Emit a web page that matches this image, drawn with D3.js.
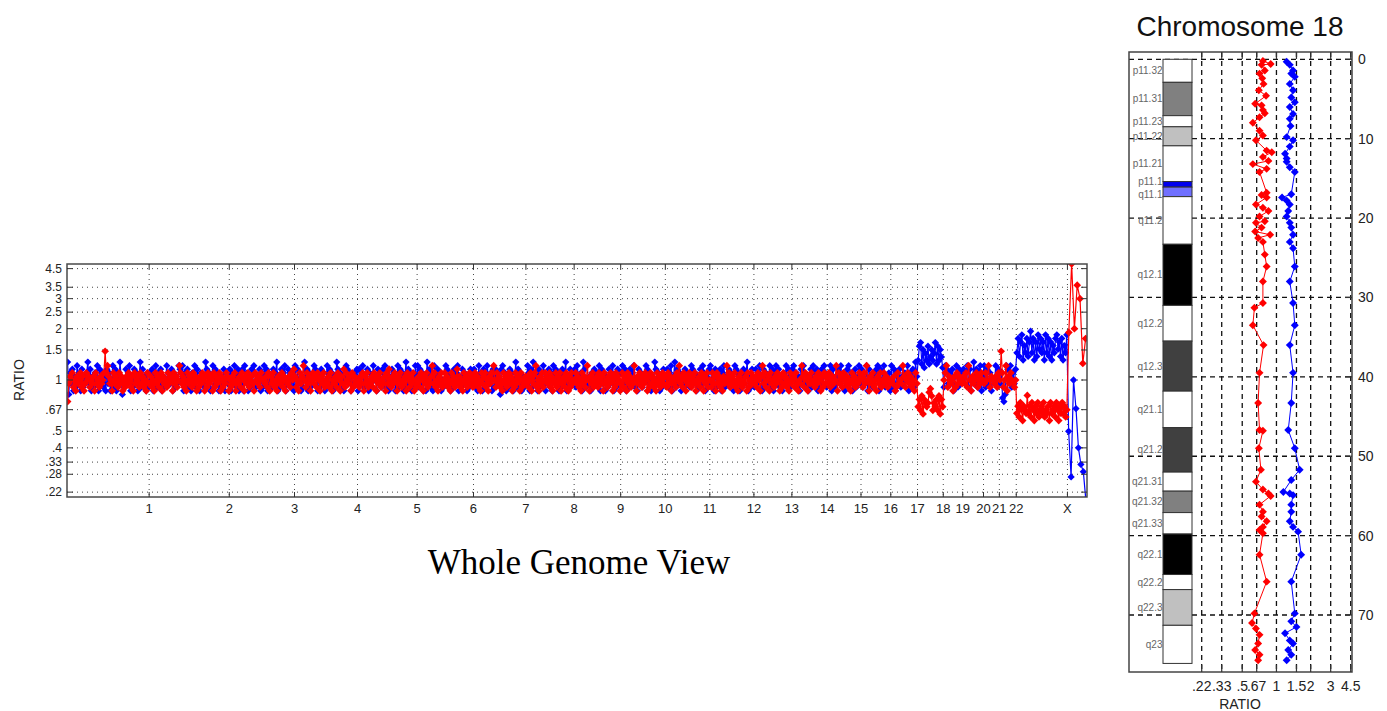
<!DOCTYPE html>
<html>
<head>
<meta charset="utf-8">
<script src="https://cdn.jsdelivr.net/npm/d3@7"></script>
<style>
  body { margin: 0; background: #fff; }
  svg { display: block; font-family: Arial, "Liberation Sans", sans-serif; }
</style>
</head>
<body>
<div class="canvas"></div>
<script>
// ---- whole genome data ----
const chromNames = ['1','2','3','4','5','6','7','8','9','10','11','12','13','14','15','16','17','18','19','20','21','22','X','Y'];
const chromLengths = [249.3,243.2,198.0,191.2,180.9,171.1,159.1,146.4,141.2,135.5,135.0,133.9,115.2,107.3,102.5,90.4,81.2,78.1,59.1,63.0,48.1,51.3,155.3,59.4]; // Mb

const ratioTicks = [4.5, 3.5, 3, 2.5, 2, 1.5, 1, 0.67, 0.5, 0.4, 0.33, 0.28, 0.22];
const ratioTickLabels = ['4.5','3.5','3','2.5','2','1.5','1','.67','.5','.4','.33','.28','.22'];

// segment level per chromosome (log2 ratio), chr1..X
const blueLevel = [0,0,0,0,0,0,0,0,0,0,0,0,0,0,0,0,0,0.45,0,0,0,0,0.6];
const redLevel  = [0,0,0,0,0,0,0,0,0,0,0,0,0,0,0,0,0,-0.45,0,0,0,0,-0.58];

// probe readings per chromosome, one hex char per probe: log2 offset = (h - 6) * 0.07
const blueReads = [
  'B2859374A68394758B5937486A395847395836A49385B7264958A37495836B4957384',
  '85937A48593746A685938475A96A385947385A49638574B95837A4958374693857',
  '9385A74938593A6837495A84759384A6938574958B374958A36958473',
  'A4958374B6938475A9837495836A4958374B9584736A958374859',
  '3958A47593846A673958495A4837495836A495837B4958374A6',
  'A4958373B59483A749583646A958374958A3749586374958',
  '9473A583946A758394958629A4837495836B49583746',
  '5A8394B75839465A83759483A6958374958B3749586',
  '94A7583B946573849586A3958374958A374958',
  '8A59374958A463958476A958374B95837495',
  '5948A37B495837495864A95837495A83749',
  'A5839475938A47594863A958374958B37495',
  '4958A7394856A4938A5947386A5948',
  '9A4857395A8473694A85937495A84',
  '58A3947596A48379A5836947A5',
  '9485A39574869A3958A47583',
  'A49385947586A38594B7',
  '59A48375946857A495863',
  '4A9585937A4958',
  '958A4936B5948A37',
  'A4958365A49',
  '58102A96A4859',
  '5948A375948B59384A69583A59483759A6849375A'
];
const redReads = [
  '05768463756847358674657385647568E8A75638576485736475864738567485746385',
  '57463857468375648576385746A8574638576485736475863748576384756837465873',
  '647583657486375846753865748665748375846375684736574869',
  '7463857A648573685748637584657483657486375948657384756',
  '6475837584657486375846573859647586375846573864758364',
  '5748637584657A584637584685746385746957463857468574',
  '685746385784637586A64857463857468573648576384657',
  '574683758A463758468756847365847583657486374856',
  '685746385746A6375846574865738564758637485763',
  '584763857465A6375864758637485746385746857',
  '748573657486A574863758647583657486375846',
  '648573857463756A584675846375846573846857',
  '5748637A5846738564758637485746385',
  '67485365A748637585647586374857',
  '5846756A38574865746385746586',
  '7485A6375846375846857465',
  '657348565A74685746385',
  '5748376569A8465748375',
  '68A475637485765',
  '7584A63756847586',
  '586A4765748',
  '6E846A37586546',
  '574863765A5748637584675846573856748637585746'
];
// chromosome Y, read as ratios
const blueY = [0.5, 0.27, 1.0, 0.68, 0.4, 0.32, 0.29, 0.2];
const redY = [1.9, 4.8, 2.0, 3.6, 3.0, 1.25, 1.75];

// ---- chromosome 18 data ----
const bandNames = ['p11.32','p11.31','p11.23','p11.22','p11.21','p11.1','q11.1','q11.2','q12.1','q12.2','q12.3','q21.1','q21.2','q21.31','q21.32','q21.33','q22.1','q22.2','q22.3','q23'];
const bandStarts = [0,2.9,7.1,8.5,10.9,15.4,16.1,17.3,23.3,31.0,35.5,41.8,46.4,52.0,54.4,57.1,59.8,64.9,66.8,71.3];
const bandEnds = [2.9,7.1,8.5,10.9,15.4,16.1,17.3,23.3,31.0,35.5,41.8,46.4,52.0,54.4,57.1,59.8,64.9,66.8,71.3,76.1];
const bandStains = ['gneg','gpos50','gneg','gpos25','gneg','acen','acen2','gneg','gpos100','gneg','gpos75','gneg','gpos75','gneg','gpos50','gneg','gpos100','gneg','gpos25','gneg'];

const chr18RedPos = [0.2,0.6,0.7,1.4,1.8,2.4,3.1,3.9,4.6,5.6,5.8,6.4,6.8,7.3,8.0,9.0,9.6,10.2,11.5,11.7,12.3,12.8,13.2,13.8,14.2,16.8,17.1,17.4,18.3,18.7,19.1,19.8,20.4,20.6,21.2,21.7,22.1,22.5,23.0,24.6,26.1,28.0,30.7,31.3,33.5,36.0,39.5,43.3,46.7,46.8,49.0,51.7,53.2,54.2,54.7,55.0,56.1,57.0,57.6,58.2,58.9,59.3,59.7,62.4,65.8,69.8,71.0,71.7,72.5,73.6,74.4,75.0,75.7];
const chr18Red = [0.76,0.89,0.74,0.79,0.71,0.75,0.77,0.70,0.81,0.65,0.74,0.76,0.79,0.71,0.62,0.71,0.76,0.66,0.82,0.91,0.76,0.85,0.62,0.82,0.71,0.82,0.74,0.82,0.66,0.76,0.85,0.71,0.79,0.66,0.74,0.65,0.88,0.69,0.76,0.79,0.82,0.76,0.76,0.64,0.62,0.77,0.71,0.69,0.71,0.76,0.70,0.73,0.66,0.76,0.85,0.89,0.71,0.76,0.74,0.82,0.76,0.71,0.76,0.71,0.82,0.64,0.61,0.66,0.71,0.69,0.65,0.71,0.69];
const chr18BluePos = [0.3,0.7,1.4,1.8,2.2,3.1,3.9,4.8,5.4,6.0,6.9,7.5,8.4,9.8,10.2,11.0,11.9,12.5,12.9,13.6,14.2,17.0,17.4,17.8,18.3,19.1,19.8,20.6,21.2,22.1,23.0,23.8,26.1,28.0,30.7,33.5,36.0,39.5,43.3,46.7,49.0,51.7,53.0,54.5,54.7,54.9,56.1,57.0,58.2,58.9,59.5,62.4,65.8,69.8,70.8,71.5,72.3,73.2,73.6,74.4,75.0,75.7];
const chr18Blue = [1.23,1.31,1.40,1.35,1.45,1.31,1.40,1.35,1.45,1.31,1.40,1.31,1.33,1.23,1.40,1.31,1.19,1.23,1.23,1.31,1.45,1.35,1.12,1.23,1.31,1.27,1.23,1.31,1.35,1.40,1.31,1.40,1.45,1.31,1.40,1.45,1.31,1.40,1.35,1.27,1.45,1.60,1.35,1.15,1.31,1.40,1.35,1.35,1.31,1.40,1.55,1.65,1.35,1.45,1.35,1.50,1.19,1.31,1.40,1.27,1.35,1.23];

const mbTicks = [0,10,20,30,40,50,60,70];
const chr18RatioTicks = [0.22,0.33,0.5,0.67,1,1.5,2,3,4.5];
const chr18RatioLabels = ['.22','.33','.5','.67','1','1.5','2','3','4.5'];

const stainColor = {gneg:'#ffffff', gpos25:'#c0c0c0', gpos50:'#808080', gpos75:'#404040', gpos100:'#000000', acen:'#0000ee', acen2:'#7070ff'};

// ---- svg ----
const svg = d3.select('.canvas').append('svg')
    .attr('width', 1387)
    .attr('height', 711);

const diamond = d3.symbolDiamond2 || d3.symbolDiamond;

// ================= whole genome view =================
const gw = { left: 67, right: 1087, top: 264, bottom: 497 };

const chromStarts = [0, ...d3.cumsum(chromLengths)].slice(0, chromLengths.length);
const chromEnds = chromStarts.map((s, i) => s + chromLengths[i]);
const totalMb = d3.sum(chromLengths);

const gx = d3.scaleLinear().domain([0, totalMb]).range([gw.left, gw.right]);
const gy = d3.scaleLog().domain([0.206, 4.79]).range([gw.bottom, gw.top]);

const decode = (str, level) => str.split('').map(c => Math.pow(2, level + (parseInt(c, 16) - 6) * 0.07));

const genomeBlue = [], genomeRed = [];
const addSeries = (vals, i, out) => vals.forEach((v, j) =>
    out.push({ pos: chromStarts[i] + (j + 0.5) * chromLengths[i] / vals.length, ratio: v }));

chromNames.forEach((name, i) => {
    if (name === 'Y') {
        addSeries(blueY, i, genomeBlue);
        addSeries(redY, i, genomeRed);
    } else {
        addSeries(decode(blueReads[i], blueLevel[i]), i, genomeBlue);
        addSeries(decode(redReads[i], redLevel[i]), i, genomeRed);
    }
});

svg.append('clipPath').attr('id', 'gclip')
  .append('rect')
    .attr('x', gw.left).attr('y', gw.top)
    .attr('width', gw.right - gw.left).attr('height', gw.bottom - gw.top);

const gGrid = svg.append('g');
// horizontal dotted grid
gGrid.selectAll('line.h')
  .data(ratioTicks)
  .enter().append('line')
    .attr('x1', gw.left).attr('x2', gw.right)
    .attr('y1', d => gy(d)).attr('y2', d => gy(d))
    .attr('stroke', '#444').attr('stroke-width', 1)
    .attr('stroke-dasharray', '1,4');
// vertical dotted grid at chromosome ends
gGrid.selectAll('line.v')
  .data(chromEnds.slice(0, 23))
  .enter().append('line')
    .attr('x1', d => gx(d)).attr('x2', d => gx(d))
    .attr('y1', gw.top).attr('y2', gw.bottom)
    .attr('stroke', '#444').attr('stroke-width', 1)
    .attr('stroke-dasharray', '1,4');

const gData = svg.append('g').attr('clip-path', 'url(#gclip)');
const gLine = d3.line().x(d => gx(d.pos)).y(d => gy(d.ratio));

[[genomeBlue, '#0000ff', 34], [genomeRed, '#ff0000', 38]].forEach(([pts, col, sz]) => {
    gData.append('path')
        .attr('d', gLine(pts))
        .attr('fill', 'none')
        .attr('stroke', col)
        .attr('stroke-width', 1.2);
    gData.selectAll(null)
      .data(pts)
      .enter().append('path')
        .attr('d', d3.symbol().type(diamond).size(sz))
        .attr('transform', d => `translate(${gx(d.pos)},${gy(d.ratio)})`)
        .attr('fill', col);
});

// frame
svg.append('rect')
    .attr('x', gw.left).attr('y', gw.top)
    .attr('width', gw.right - gw.left).attr('height', gw.bottom - gw.top)
    .attr('fill', 'none').attr('stroke', '#4a4a4a').attr('stroke-width', 1.5);

// y ticks on both sides
const gTicks = svg.append('g').attr('stroke', '#333').attr('stroke-width', 1);
ratioTicks.forEach(t => {
    gTicks.append('line').attr('x1', gw.left).attr('x2', gw.left + 6).attr('y1', gy(t)).attr('y2', gy(t));
    gTicks.append('line').attr('x1', gw.right - 6).attr('x2', gw.right).attr('y1', gy(t)).attr('y2', gy(t));
});
chromEnds.slice(0, 23).forEach(e => {
    gTicks.append('line').attr('x1', gx(e)).attr('x2', gx(e)).attr('y1', gw.bottom).attr('y2', gw.bottom - 5);
    gTicks.append('line').attr('x1', gx(e)).attr('x2', gx(e)).attr('y1', gw.top).attr('y2', gw.top + 5);
});

svg.append('g').selectAll('text')
  .data(ratioTicks)
  .enter().append('text')
    .attr('x', gw.left - 5)
    .attr('y', d => gy(d) + 4)
    .attr('text-anchor', 'end')
    .attr('font-size', 12)
    .attr('fill', '#222')
    .text((d, i) => ratioTickLabels[i]);

svg.append('g').selectAll('text')
  .data(chromNames.slice(0, 23))
  .enter().append('text')
    .attr('x', (d, i) => gx(chromEnds[i]))
    .attr('y', gw.bottom + 16)
    .attr('text-anchor', 'middle')
    .attr('font-size', 13)
    .attr('fill', '#222')
    .text(d => d);

svg.append('text')
    .attr('transform', `translate(24,${gy(1)}) rotate(-90)`)
    .attr('text-anchor', 'middle')
    .attr('font-size', 14)
    .attr('fill', '#222')
    .text('RATIO');

svg.append('text')
    .attr('x', 579).attr('y', 574)
    .attr('text-anchor', 'middle')
    .attr('font-family', '"Liberation Serif", "Times New Roman", serif')
    .attr('font-size', 35)
    .attr('fill', '#000')
    .text('Whole Genome View');

// ================= chromosome 18 =================
const cw = { left: 1129, right: 1352, top: 52, bottom: 672, ideoL: 1163, ideoR: 1192 };
const cx = d3.scaleLog().domain([0.22, 4.5]).range([1201.7, 1350.7]);
const cy = d3.scaleLinear().domain([0, 70]).range([59.3, 615]);

svg.append('text')
    .attr('x', 1240).attr('y', 36)
    .attr('text-anchor', 'middle')
    .attr('font-size', 28)
    .attr('fill', '#111')
    .text('Chromosome 18');

svg.append('rect')
    .attr('x', cw.left).attr('y', cw.top)
    .attr('width', cw.right - cw.left).attr('height', cw.bottom - cw.top)
    .attr('fill', '#fff');

const cGrid = svg.append('g')
    .attr('stroke', '#111').attr('stroke-width', 1.3).attr('stroke-dasharray', '5,4');
cGrid.selectAll('line.v')
  .data(chr18RatioTicks)
  .enter().append('line')
    .attr('x1', d => cx(d)).attr('x2', d => cx(d))
    .attr('y1', cw.top).attr('y2', cw.bottom);
cGrid.selectAll('line.h')
  .data(mbTicks)
  .enter().append('line')
    .attr('x1', cw.left).attr('x2', cw.right)
    .attr('y1', d => cy(d)).attr('y2', d => cy(d));

// ideogram
svg.append('g').selectAll('rect')
  .data(bandNames)
  .enter().append('rect')
    .attr('x', cw.ideoL)
    .attr('width', cw.ideoR - cw.ideoL)
    .attr('y', (d, i) => cy(bandStarts[i]))
    .attr('height', (d, i) => cy(bandEnds[i]) - cy(bandStarts[i]))
    .attr('fill', (d, i) => stainColor[bandStains[i]])
    .attr('stroke', '#333').attr('stroke-width', 1);

// the two centromere labels sit very close; nudge them apart a little
const labelNudge = { 'p11.1': -2.5, 'q11.1': 2.5 };
svg.append('g').selectAll('text')
  .data(bandNames)
  .enter().append('text')
    .attr('x', cw.ideoL - 0.5)
    .attr('y', (d, i) => cy((bandStarts[i] + bandEnds[i]) / 2) + 3.5 + (labelNudge[d] || 0))
    .attr('text-anchor', 'end')
    .attr('font-size', 10)
    .attr('fill', '#666')
    .text(d => d);

// chr18 traces
const cLine = d3.line().x(d => cx(d.ratio)).y(d => cy(d.pos));
const c18Red = chr18RedPos.map((p, i) => ({ pos: p, ratio: chr18Red[i] }));
const c18Blue = chr18BluePos.map((p, i) => ({ pos: p, ratio: chr18Blue[i] }));

[[c18Red, '#ff0000'], [c18Blue, '#0000ff']].forEach(([pts, col]) => {
    svg.append('path')
        .attr('d', cLine(pts))
        .attr('fill', 'none')
        .attr('stroke', col)
        .attr('stroke-width', 1);
    svg.append('g').selectAll('path')
      .data(pts)
      .enter().append('path')
        .attr('d', d3.symbol().type(diamond).size(40))
        .attr('transform', d => `translate(${cx(d.ratio)},${cy(d.pos)})`)
        .attr('fill', col);
});

svg.append('rect')
    .attr('x', cw.left).attr('y', cw.top)
    .attr('width', cw.right - cw.left).attr('height', cw.bottom - cw.top)
    .attr('fill', 'none').attr('stroke', '#444').attr('stroke-width', 1.5);

const cTicks = svg.append('g').attr('stroke', '#333').attr('stroke-width', 1.2);
chr18RatioTicks.forEach(t => {
    cTicks.append('line').attr('x1', cx(t)).attr('x2', cx(t)).attr('y1', cw.top).attr('y2', cw.top + 7);
    cTicks.append('line').attr('x1', cx(t)).attr('x2', cx(t)).attr('y1', cw.bottom).attr('y2', cw.bottom - 7);
});
mbTicks.forEach(t => {
    cTicks.append('line').attr('x1', cw.right - 7).attr('x2', cw.right).attr('y1', cy(t)).attr('y2', cy(t));
});

svg.append('g').selectAll('text')
  .data(mbTicks)
  .enter().append('text')
    .attr('x', cw.right + 6)
    .attr('y', d => cy(d) + 5)
    .attr('font-size', 14)
    .attr('fill', '#222')
    .text(d => d);

svg.append('g').selectAll('text')
  .data(chr18RatioTicks)
  .enter().append('text')
    .attr('x', d => cx(d))
    .attr('y', 691)
    .attr('text-anchor', 'middle')
    .attr('font-size', 14)
    .attr('fill', '#222')
    .text((d, i) => chr18RatioLabels[i]);

svg.append('text')
    .attr('x', 1240).attr('y', 709)
    .attr('text-anchor', 'middle')
    .attr('font-size', 14)
    .attr('fill', '#222')
    .text('RATIO');
</script>
</body>
</html>
